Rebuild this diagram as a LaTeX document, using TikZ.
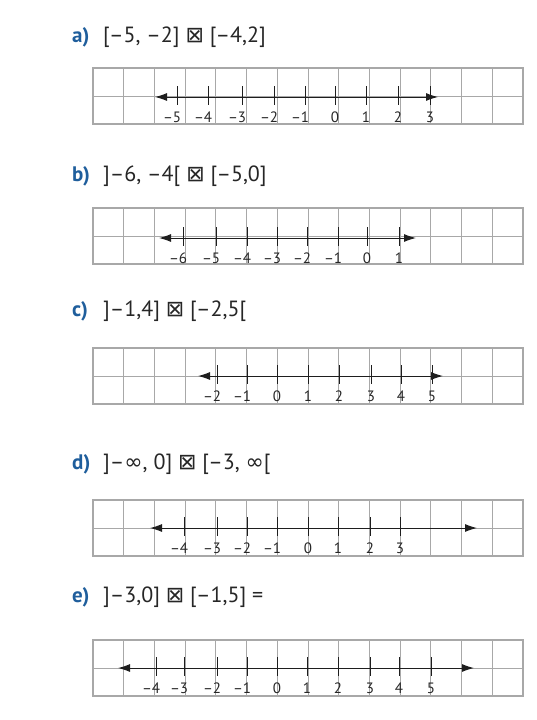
\documentclass[tikz,border=0pt]{standalone}
\usepackage{fontspec}
\setmainfont{PT Sans}
\newfontfamily\symfont{DejaVu Sans}
\usetikzlibrary{arrows.meta}

\definecolor{partblue}{HTML}{1F5E9C}
\definecolor{gridgray}{HTML}{A8A8A8}
\definecolor{linegray}{HTML}{1E1E1E}

\newcommand{\xbox}{{\symfont ⊠}}
\newcommand{\infsym}{{\symfont ∞}}
\newcommand{\ticklabel}[1]{\ifnum#1<0 \makebox[0pt][r]{–}\number\numexpr-#1\relax\else#1\fi}

\begin{document}
\begin{tikzpicture}
   [x=1pt,y=-1pt,every node/.style={draw=none,inner sep=0pt},
    part/.style={anchor=base west,text=partblue,font=\bfseries\fontsize{21}{21}\selectfont},
    expr/.style={anchor=base west,text=black!85,font=\fontsize{22}{22}\selectfont},
    cell/.style={gridgray,line width=0.8pt},
    frame/.style={gridgray,line width=1.4pt},
    numline/.style={linegray,line width=1pt,{Latex[length=12pt,width=8pt]}-{Latex[length=12pt,width=8pt]}},
    tick/.style={linegray,line width=0.9pt},
    num/.style={anchor=base,text=black!85,font=\fontsize{15}{15}\selectfont}]

\useasboundingbox (0,0) rectangle (536,720);

%%%%%%%%%%%%%%%%%%%%%%%%%%%%%%%%%%%%%%%%%%%%%%%%%%%%%%%%%%%%%%%
% Part a
%%%%%%%%%%%%%%%%%%%%%%%%%%%%%%%%%%%%%%%%%%%%%%%%%%%%%%%%%%%%%%%

\node[part] (la) at (72,42) {a)};
\node[expr] (ea) at (103,42) {[–5, –2] \xbox{} [–4,2]};

% Grid
\foreach \k in {1,...,13}
	\draw[cell] (93+30.714*\k,68) -- (93+30.714*\k,124);
\draw[cell] (93,96) -- (523,96);
\draw[frame] (93,68) rectangle (523,124);

% Number line
\coordinate (aL) at (155,97);
\coordinate (aR) at (438,97);
\draw[numline] (aL) -- (aR);
\foreach \n/\x in {-5/177,-4/208,-3/242,-2/274,-1/305,0/335,1/366,2/398,3/430}{
	\draw[tick] (\x,86) -- (\x,105);
	\node[num] (na\n) at (\x,122) {\ticklabel{\n}};
}

%%%%%%%%%%%%%%%%%%%%%%%%%%%%%%%%%%%%%%%%%%%%%%%%%%%%%%%%%%%%%%%
% Part b
%%%%%%%%%%%%%%%%%%%%%%%%%%%%%%%%%%%%%%%%%%%%%%%%%%%%%%%%%%%%%%%

\node[part] (lb) at (72,181) {b)};
\node[expr] (eb) at (103,181) {]–6, –4[ \xbox{} [–5,0]};

% Grid
\foreach \k in {1,...,13}
	\draw[cell] (93+30.714*\k,208) -- (93+30.714*\k,264);
\draw[cell] (93,236) -- (523,236);
\draw[frame] (93,208) rectangle (523,264);

% Number line
\coordinate (bL) at (159,238);
\coordinate (bR) at (416,238);
\draw[numline] (bL) -- (bR);
\foreach \n/\x in {-6/183,-5/216,-4/247,-3/277,-2/307,-1/338,0/367,1/399}{
	\draw[tick] (\x,227) -- (\x,246);
	\node[num] (nb\n) at (\x,263) {\ticklabel{\n}};
}

%%%%%%%%%%%%%%%%%%%%%%%%%%%%%%%%%%%%%%%%%%%%%%%%%%%%%%%%%%%%%%%
% Part c
%%%%%%%%%%%%%%%%%%%%%%%%%%%%%%%%%%%%%%%%%%%%%%%%%%%%%%%%%%%%%%%

\node[part] (lc) at (72,316) {c)};
\node[expr] (ec) at (103,316) {]–1,4] \xbox{} [–2,5[};

% Grid
\foreach \k in {1,...,13}
	\draw[cell] (93+30.714*\k,348) -- (93+30.714*\k,404);
\draw[cell] (93,376) -- (523,376);
\draw[frame] (93,348) rectangle (523,404);

% Number line
\coordinate (cL) at (198,376);
\coordinate (cR) at (443,376);
\draw[numline] (cL) -- (cR);
\foreach \n/\x in {-2/217,-1/247,0/277,1/308,2/339,3/371,4/401,5/432}{
	\draw[tick] (\x,365) -- (\x,384);
	\node[num] (nc\n) at (\x,401) {\ticklabel{\n}};
}

%%%%%%%%%%%%%%%%%%%%%%%%%%%%%%%%%%%%%%%%%%%%%%%%%%%%%%%%%%%%%%%
% Part d
%%%%%%%%%%%%%%%%%%%%%%%%%%%%%%%%%%%%%%%%%%%%%%%%%%%%%%%%%%%%%%%

\node[part] (ld) at (72,469) {d)};
\node[expr] (ed) at (103,469) {]–\infsym, 0] \xbox{} [–3, \infsym[};

% Grid
\foreach \k in {1,...,13}
	\draw[cell] (93+30.714*\k,500) -- (93+30.714*\k,556);
\draw[cell] (93,528) -- (523,528);
\draw[frame] (93,500) rectangle (523,556);

% Number line
\coordinate (dL) at (150,528);
\coordinate (dR) at (477,528);
\draw[numline] (dL) -- (dR);
\foreach \n/\x in {-4/184,-3/217,-2/247,-1/277,0/308,1/338,2/370,3/400}{
	\draw[tick] (\x,517) -- (\x,536);
	\node[num] (nd\n) at (\x,553) {\ticklabel{\n}};
}

%%%%%%%%%%%%%%%%%%%%%%%%%%%%%%%%%%%%%%%%%%%%%%%%%%%%%%%%%%%%%%%
% Part e
%%%%%%%%%%%%%%%%%%%%%%%%%%%%%%%%%%%%%%%%%%%%%%%%%%%%%%%%%%%%%%%

\node[part] (le) at (72,602) {e)};
\node[expr] (ee) at (103,602) {]–3,0] \xbox{} [–1,5] =};

% Grid
\foreach \k in {1,...,13}
	\draw[cell] (93+30.714*\k,640) -- (93+30.714*\k,696);
\draw[cell] (93,668) -- (523,668);
\draw[frame] (93,640) rectangle (523,696);

% Number line
\coordinate (eL) at (118,668);
\coordinate (eR) at (474,668);
\draw[numline] (eL) -- (eR);
\foreach \n/\x in {-4/156,-3/184,-2/217,-1/247,0/277,1/307,2/338,3/370,4/399,5/431}{
	\draw[tick] (\x,657) -- (\x,676);
	\node[num] (ne\n) at (\x,693) {\ticklabel{\n}};
}

\end{tikzpicture}
\end{document}
